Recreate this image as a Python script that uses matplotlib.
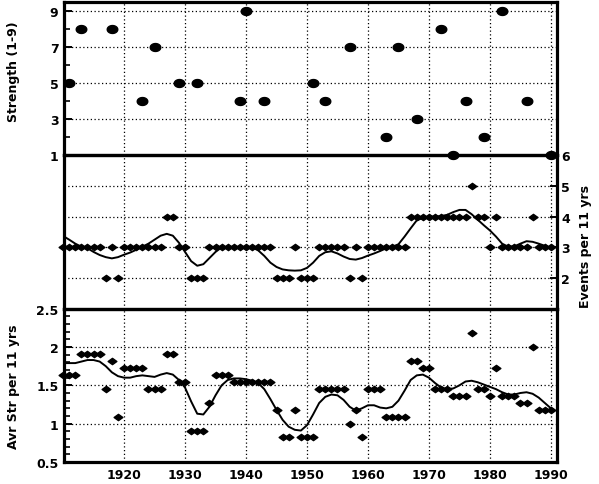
import matplotlib
matplotlib.use('Agg')
import matplotlib.pyplot as plt
import numpy as np
from matplotlib.path import Path
from matplotlib.ticker import MultipleLocator, FixedLocator

# ---------------- data ----------------
event_years = [1911, 1913, 1918, 1923, 1925, 1929, 1932, 1939, 1940, 1943,
               1951, 1953, 1957, 1963, 1965, 1968, 1972, 1974, 1976, 1979,
               1982, 1986, 1990]
strength = [5, 8, 8, 4, 7, 5, 5, 4, 9, 4,
            5, 4, 7, 2, 7, 3, 8, 1, 4, 2,
            9, 4, 1]

years = list(range(1910, 1991))

events_11 = [3, 3, 3, 3, 3, 3, 3, 2, 3, 2,           # 1910-1919
             3, 3, 3, 3, 3, 3, 3, 4, 4, 3,           # 1920-1929
             3, 2, 2, 2, 3, 3, 3, 3, 3, 3,           # 1930-1939
             3, 3, 3, 3, 3, 2, 2, 2, 3, 2,           # 1940-1949
             2, 2, 3, 3, 3, 3, 3, 2, 3, 2,           # 1950-1959
             3, 3, 3, 3, 3, 3, 3, 4, 4, 4,           # 1960-1969
             4, 4, 4, 4, 4, 4, 4, 5, 4, 4,           # 1970-1979
             3, 4, 3, 3, 3, 3, 3, 4, 3, 3,           # 1980-1989
             3]                                      # 1990

events_smooth = [3.37, 3.25, 3.12, 3.02, 2.97, 2.85, 2.75, 2.68, 2.64, 2.68,
                 2.76, 2.83, 2.92, 3.02, 3.12, 3.25, 3.38, 3.44, 3.38, 3.15,
                 2.85, 2.55, 2.40, 2.45, 2.65, 2.85, 3.00, 3.00, 3.00, 3.00,
                 3.00, 3.00, 2.90, 2.72, 2.50, 2.36, 2.28, 2.25, 2.24, 2.25,
                 2.33, 2.50, 2.72, 2.84, 2.87, 2.80, 2.70, 2.62, 2.60, 2.65,
                 2.73, 2.80, 2.88, 2.97, 3.02, 3.10, 3.35, 3.62, 3.88, 3.96,
                 4.00, 4.00, 4.02, 4.06, 4.15, 4.22, 4.22, 4.08, 3.90, 3.72,
                 3.55, 3.35, 3.12, 3.02, 3.03, 3.12, 3.20, 3.18, 3.12, 3.05,
                 2.98]

avg_str_11 = [1.64, 1.64, 1.64, 1.91, 1.91, 1.91, 1.91, 1.45, 1.82, 1.09,
              1.73, 1.73, 1.73, 1.73, 1.45, 1.45, 1.45, 1.91, 1.91, 1.55,
              1.55, 0.91, 0.91, 0.91, 1.27, 1.64, 1.64, 1.64, 1.55, 1.55,
              1.55, 1.55, 1.55, 1.55, 1.55, 1.18, 0.82, 0.82, 1.18, 0.82,
              0.82, 0.82, 1.45, 1.45, 1.45, 1.45, 1.45, 1.00, 1.18, 0.82,
              1.45, 1.45, 1.45, 1.09, 1.09, 1.09, 1.09, 1.82, 1.82, 1.73,
              1.73, 1.45, 1.45, 1.45, 1.36, 1.36, 1.36, 2.18, 1.45, 1.45,
              1.36, 1.73, 1.36, 1.36, 1.36, 1.27, 1.27, 2.00, 1.18, 1.18,
              1.18]

avg_smooth = [1.79, 1.79, 1.79, 1.81, 1.83, 1.83, 1.81, 1.75, 1.67, 1.62,
              1.60, 1.60, 1.62, 1.63, 1.62, 1.61, 1.64, 1.66, 1.64, 1.57,
              1.47, 1.29, 1.13, 1.12, 1.22, 1.37, 1.50, 1.57, 1.59, 1.59,
              1.58, 1.56, 1.53, 1.45, 1.32, 1.18, 1.05, 0.96, 0.92, 0.91,
              0.98, 1.12, 1.27, 1.35, 1.38, 1.37, 1.31, 1.22, 1.17, 1.20,
              1.24, 1.24, 1.21, 1.20, 1.22, 1.30, 1.43, 1.57, 1.63, 1.64,
              1.60, 1.53, 1.47, 1.45, 1.46, 1.50, 1.55, 1.56, 1.54, 1.51,
              1.48, 1.45, 1.41, 1.38, 1.38, 1.40, 1.41, 1.39, 1.34, 1.27,
              1.20]

decades = [1920, 1930, 1940, 1950, 1960, 1970, 1980, 1990]
decade_labels = ['1920', '1930', '1940', '1950', '1960', '1970', '1980', '1990']

# ---------------- styling ----------------
plt.rcParams['font.family'] = ['DejaVu Sans']
plt.rcParams['font.weight'] = 'bold'

W, H = 599, 485
fig = plt.figure(figsize=(W / 100, H / 100), dpi=100)
L, R = 64 / W, 557 / W
B, T = 1 - 463 / H, 1 - 3 / H
h = (T - B) / 3
ax1 = fig.add_axes([L, B + 2 * h, R - L, h])
ax2 = fig.add_axes([L, B + h, R - L, h])
ax3 = fig.add_axes([L, B, R - L, h])
ax1.set_zorder(3)
ax2.set_zorder(2)
ax3.set_zorder(1)

t = np.linspace(0, 2 * np.pi, 40)
ellipse = Path(np.column_stack([np.cos(t), 0.75 * np.sin(t)]), closed=True)
diamond = Path([(-1, 0), (0, 0.72), (1, 0), (0, -0.72), (-1, 0)], closed=True)

grid_kw = dict(color='black', linestyle=(0, (1, 2.0)), linewidth=0.9)

for ax in (ax1, ax2, ax3):
    ax.patch.set_visible(False)
    ax.set_xlim(1910.15, 1991.0)
    ax.set_axisbelow(True)
    for s in ax.spines.values():
        s.set_linewidth(2.3)
        s.set_color('black')
    ax.xaxis.set_major_locator(FixedLocator(decades))
    ax.grid(True, axis='both', which='major', **grid_kw)
    ax.tick_params(axis='x', length=0, labelbottom=False)

# Top panel: strength
ax1.plot(event_years, strength, linestyle='none', marker=ellipse,
         markersize=7.6, color='black', clip_on=False, zorder=5)
ax1.set_ylim(1, 9.5)
ax1.yaxis.set_major_locator(FixedLocator([1, 3, 5, 7, 9]))
ax1.yaxis.set_minor_locator(FixedLocator([2, 4, 6, 8]))
ax1.tick_params(axis='y', which='major', direction='in', length=6, width=1.4,
                pad=4, labelsize=9)
ax1.tick_params(axis='y', which='minor', direction='in', length=4, width=1.2)

# Middle panel: events per 11 years
ax2.plot(years, events_11, linestyle='none', marker=diamond, markersize=6.3,
         color='black', clip_on=False, zorder=4)
ax2.plot(years, events_smooth, color='black', linewidth=1.4, zorder=5)
ax2.set_ylim(1, 6)
ax2.yaxis.set_major_locator(FixedLocator([2, 3, 4, 5, 6]))
ax2.yaxis.tick_right()
ax2.tick_params(axis='y', which='major', direction='in', length=5, width=1.4,
                pad=3, labelsize=9, right=True, left=False)

# Bottom panel: average strength per 11 years
ax3.plot(years, avg_str_11, linestyle='none', marker=diamond, markersize=6.3,
         color='black', clip_on=False, zorder=4)
ax3.plot(years, avg_smooth, color='black', linewidth=1.4, zorder=5)
ax3.set_ylim(0.5, 2.5)
ax3.yaxis.set_major_locator(FixedLocator([0.5, 1, 1.5, 2, 2.5]))
ax3.yaxis.set_major_formatter(matplotlib.ticker.FuncFormatter(
    lambda v, p: ('%g' % v)))
ax3.yaxis.set_minor_locator(MultipleLocator(0.1))
ax3.tick_params(axis='y', which='major', direction='in', length=6, width=1.4,
                pad=4, labelsize=9)
ax3.tick_params(axis='y', which='minor', direction='in', length=4, width=1.2)
ax3.set_xticks(decades)
ax3.set_xticklabels(decade_labels)
ax3.tick_params(axis='x', labelbottom=True, labelsize=9, pad=4, length=0)

for ax in (ax1, ax2, ax3):
    for lab in ax.get_xticklabels() + ax.get_yticklabels():
        lab.set_fontweight('bold')

# Axis titles
fig.text(14 / W, 1 - 72 / H, 'Strength (1-9)', rotation=90, ha='center',
         va='center', fontsize=9, fontweight='bold')
fig.text(585 / W, 1 - 247 / H, 'Events per 11 yrs', rotation=90, ha='center',
         va='center', fontsize=9, fontweight='bold')
fig.text(14 / W, 1 - 387 / H, 'Avr Str per 11 yrs', rotation=90, ha='center',
         va='center', fontsize=9, fontweight='bold')

fig.savefig('out.png', dpi=100, facecolor='white')
